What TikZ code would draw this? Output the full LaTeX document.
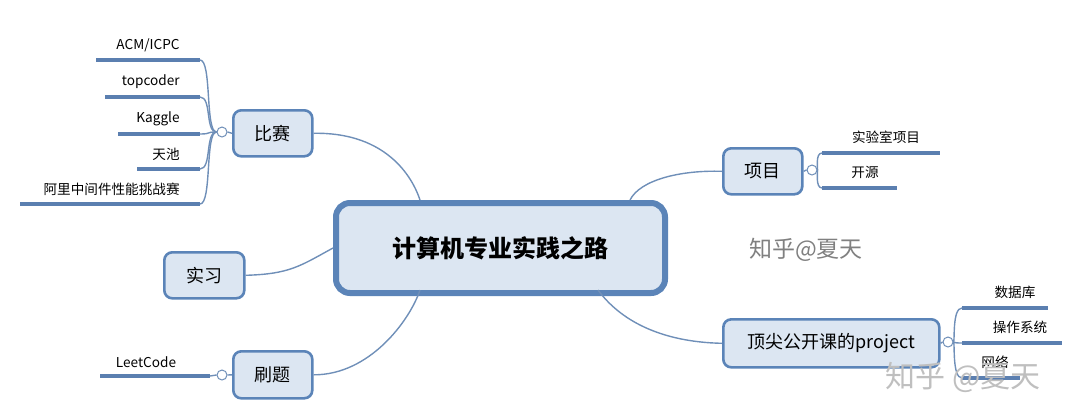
\documentclass[tikz,border=0pt]{standalone}
\usepackage{fontspec}
\setmainfont{Liberation Sans}
\newfontfamily\cjk{Noto Sans CJK SC}
\begin{document}
\begin{tikzpicture}[x=0.5pt,y=-0.5pt,
  line/.style={draw=lineblue,line width=1.6pt},
  conn/.style={draw=connblue,line width=0.7pt},
  topic/.style={draw=boxblue,fill=boxfill,line width=1.3pt,rounded corners=4pt,anchor=north west,inner sep=0pt,font=\cjk\fontsize{9}{10}\selectfont},
  leaf/.style={font=\cjk\fontsize{6.8}{8}\selectfont,inner sep=1pt},
  knob/.style={circle,draw=connblue,fill=white,line width=0.5pt,minimum size=5pt,inner sep=0pt}]
\definecolor{lineblue}{HTML}{5B7FB0}
\definecolor{connblue}{HTML}{6F8FB8}
\definecolor{boxblue}{HTML}{5B84B8}
\definecolor{boxfill}{HTML}{DCE6F2}
\useasboundingbox (0,0) rectangle (1080,419);
% central
\node[topic,line width=3pt,rounded corners=7pt,minimum width=329*0.5pt,minimum height=90*0.5pt,font=\cjk\bfseries\fontsize{12}{14}\selectfont] (c) at (333,200) {计算机专业实践之路};
% topics
\node[topic,minimum width=79*0.5pt,minimum height=46*0.5pt] (bs) at (232,109) {比赛};
\node[topic,minimum width=80*0.5pt,minimum height=46*0.5pt] (sx) at (163,251) {实习};
\node[topic,minimum width=79*0.5pt,minimum height=47*0.5pt] (st) at (232,350) {刷题};
\node[topic,minimum width=79*0.5pt,minimum height=46*0.5pt] (xm) at (722,147) {项目};
\node[topic,minimum width=216*0.5pt,minimum height=48*0.5pt] (dj) at (722,318) {顶尖公开课的project};
% connectors from centre
\draw[conn] (bs.east) .. controls (380,132) and (410,170) .. (420,200);
\draw[conn] (sx.east) .. controls (290,274) and (300,266) .. (c.west);
\draw[conn] (st.east) .. controls (370,375) and (410,320) .. (420,290);
\draw[conn] (xm.west) .. controls (680,170) and (640,180) .. (630,200);
\draw[conn] (dj.west) .. controls (660,342) and (620,320) .. (598,290);
% knobs
\node[knob] (kb) at (222,132) {};
\node[knob] (ks) at (222,375) {};
\node[knob] (kx) at (812,170) {};
\node[knob] (kd) at (948,342) {};
\draw[conn] (bs.west) -- (kb.east);
\draw[conn] (st.west) -- (ks.east);
\draw[conn] (xm.east) -- (kx.west);
\draw[conn] (dj.east) -- (kd.west);
% leaves left
\foreach \n/\t/\y/\x in {a/ACM\slash ICPC/60/96, b/topcoder/97/105, k/Kaggle/134/118, d/天池/169/137, e/阿里中间件性能挑战赛/204/20}{
  \coordinate (\n r) at (200,\y);
  \coordinate (\n l) at (\x,\y);
  \draw[line] (\n l) -- (\n r);
  \node[leaf,anchor=south east] (\n t) at (182,\y-6) {\t};
  \draw[conn] (kb.west) .. controls (205,132) and (212,\y) .. (\n r);
}
\coordinate (lr) at (210,376); \coordinate (ll) at (100,376);
\draw[line] (ll) -- (lr);
\node[leaf,anchor=south] (lt) at (146,370) {LeetCode};
\draw[conn] (ks.west) -- (lr);
% leaves right of 项目
\foreach \n/\t/\y/\x/\tx in {p/实验室项目/153/940/886, q/开源/188/897/865}{
  \coordinate (\n l) at (822,\y); \coordinate (\n r) at (\x,\y);
  \draw[line] (\n l) -- (\n r);
  \node[leaf,anchor=south] (\n t) at (\tx,\y-7) {\t};
  \draw[conn] (kx.east) .. controls (818,170) and (815,\y) .. (\n l);
}
\foreach \n/\t/\y/\x/\tx in {s/数据库/308/1048/1015, o/操作系统/343/1062/1020, w/网络/378/1020/995}{
  \coordinate (\n l) at (962,\y); \coordinate (\n r) at (\x,\y);
  \draw[line] (\n l) -- (\n r);
  \node[leaf,anchor=south] (\n t) at (\tx,\y-7) {\t};
  \draw[conn] (kd.east) .. controls (955,342) and (952,\y) .. (\n l);
}
% watermarks
\node[font=\cjk\fontsize{11.5}{13}\selectfont,text=black!50] (wm) at (806,250) {知乎@夏天};
\node[font=\cjk\fontsize{15}{17}\selectfont,text=black!25] (wm2) at (963,377) {知乎 @夏天};
\end{tikzpicture}
\end{document}
